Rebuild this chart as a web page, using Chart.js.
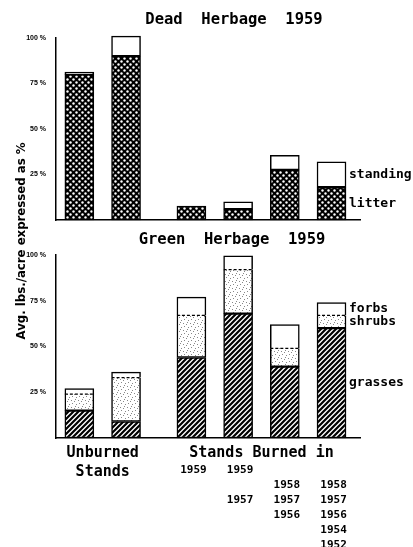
<!DOCTYPE html>
<html>
<head>
<meta charset="utf-8">
<title>Dead and Green Herbage 1959</title>
<script src="https://cdn.jsdelivr.net/npm/chart.js@4.4.0/dist/chart.umd.min.js"></script>
<style>
  body { margin: 0; background: #fff; }
  #wrap { position: relative; width: 413px; height: 547px; }
  canvas { position: absolute; left: 0; top: 0; }
</style>
</head>
<body>
<div id="wrap">
  <canvas id="deadChart" width="413" height="547"></canvas>
  <canvas id="greenChart" width="413" height="547"></canvas>
</div>
<script>
// stands, left to right: two unburned, four burned
const barGroups = [0, 0, 1, 1, 1, 1];
const groupLabels = [['Unburned', 'Stands'], ['Stands Burned in']];
const burnYears = [[], [], ['1959'], ['1959', '1957'], ['1958', '1957', '1956'], ['1958', '1957', '1956', '1954', '1952']];
const yearRows = ['1959', '1958', '1957', '1956', '1954', '1952'];

// dead herbage 1959 (avg lbs/acre expressed as %)
const litter = [80, 90, 7.7, 6, 27.5, 18];
const standing = [1.3, 11, 0, 4, 8, 14];

// green herbage 1959
const grasses = [15, 9, 44, 68, 39, 60];
const shrubs = [9, 24, 23, 24, 10, 7];
const forbs = [3, 3, 10, 7.5, 13, 7];

const yTicks = [25, 50, 75, 100];

const FONT = '"DejaVu Sans Mono", monospace';

function makePattern(size, draw) {
    const c = document.createElement('canvas');
    c.width = size;
    c.height = size;
    const g = c.getContext('2d');
    draw(g, size);
    return g.createPattern(c, 'repeat');
}

// black with white dots (litter)
const dotsPattern = makePattern(6, (g, s) => {
    g.fillStyle = '#000';
    g.fillRect(0, 0, s, s);
    g.fillStyle = '#fff';
    [[1.5, 1.5], [4.5, 4.5]].forEach(([x, y]) => {
        g.beginPath();
        g.arc(x, y, 1.2, 0, Math.PI * 2);
        g.fill();
    });
});

// diagonal hatching (grasses)
const hatchPattern = makePattern(5, (g, s) => {
    g.fillStyle = '#fff';
    g.fillRect(0, 0, s, s);
    g.strokeStyle = '#000';
    g.lineWidth = 2.2;
    g.beginPath();
    g.moveTo(-1, s + 1); g.lineTo(s + 1, -1);
    g.moveTo(-1, 1); g.lineTo(1, -1);
    g.moveTo(s - 1, s + 1); g.lineTo(s + 1, s - 1);
    g.stroke();
});

// light stipple (shrubs)
const stipplePattern = makePattern(7, (g, s) => {
    g.fillStyle = '#fff';
    g.fillRect(0, 0, s, s);
    g.fillStyle = '#888';
    [[1, 1], [4, 2], [2, 4], [6, 5], [5, 0]].forEach(([x, y]) => g.fillRect(x, y, 1, 1));
});

// bar position on the x axis: index plus a gap between the groups
function toPoints(values) {
    return values.map((v, i) => ({ x: i + 0.4 * barGroups[i], y: v }));
}

function dataset(label, values, fill, border) {
    return {
        label: label,
        data: toPoints(values),
        backgroundColor: fill,
        borderColor: '#000',
        borderWidth: border === undefined ? 1.5 : border,
        borderSkipped: false,
        barThickness: 29,
        clip: false
    };
}

function makeScales() {
    return {
        x: {
            type: 'linear', min: -0.5, max: 6.01, stacked: true, offset: false,
            grid: { display: false },
            ticks: { display: false },
            border: { display: true, color: '#000', width: 1.5 },
            afterFit: s => { s.height = 0; }
        },
        y: {
            min: 0, max: 100, stacked: true,
            grid: { display: false },
            border: { display: true, color: '#000', width: 1.5 },
            afterBuildTicks: s => { s.ticks = yTicks.map(v => ({ value: v })); },
            ticks: {
                color: '#000', padding: 2,
                font: { family: 'Liberation Sans', size: 7, weight: 'bold' },
                callback: v => v + ' %'
            },
            afterFit: s => { s.width = 56; }
        }
    };
}

// labels to the right of the last bar, at the middle of each segment
function sideLabels(chart) {
    const ctx = chart.ctx;
    ctx.font = 'bold 13px ' + FONT;
    ctx.textAlign = 'left';
    ctx.textBaseline = 'middle';
    chart.data.datasets.forEach((ds, d) => {
        const bars = chart.getDatasetMeta(d).data;
        const el = bars[bars.length - 1];
        ctx.fillText(ds.label, el.x + el.width / 2 + 3, (el.y + el.base) / 2);
    });
}

const deadText = {
    id: 'deadText',
    afterDraw(chart) {
        const ctx = chart.ctx;
        ctx.save();
        ctx.fillStyle = '#000';
        ctx.textAlign = 'center';
        ctx.textBaseline = 'middle';
        ctx.font = 'bold 15.5px ' + FONT;
        ctx.fillText('Dead  Herbage  1959', 234, 20);
        sideLabels(chart);
        ctx.restore();
    }
};

const greenText = {
    id: 'greenText',
    afterDraw(chart) {
        const ctx = chart.ctx;
        ctx.save();
        ctx.fillStyle = '#000';

        // dashed line between shrubs and forbs
        ctx.strokeStyle = '#000';
        ctx.lineWidth = 1.2;
        ctx.setLineDash([3, 2]);
        chart.getDatasetMeta(1).data.forEach(el => {
            ctx.beginPath();
            ctx.moveTo(el.x - el.width / 2, el.y);
            ctx.lineTo(el.x + el.width / 2, el.y);
            ctx.stroke();
        });
        ctx.setLineDash([]);

        ctx.textAlign = 'center';
        ctx.textBaseline = 'middle';
        ctx.font = 'bold 15.5px ' + FONT;
        ctx.fillText('Green  Herbage  1959', 232, 240);

        sideLabels(chart);

        // group labels under the axis
        const xs = chart.getDatasetMeta(0).data.map(el => el.x);
        ctx.textAlign = 'center';
        ctx.font = 'bold 15px ' + FONT;
        groupLabels.forEach((lines, g) => {
            const px = xs.filter((x, i) => barGroups[i] === g);
            const cx = (Math.min(...px) + Math.max(...px)) / 2;
            lines.forEach((t, k) => ctx.fillText(t, cx, 453 + k * 19));
        });

        // burn years under each bar
        ctx.font = 'bold 11px ' + FONT;
        burnYears.forEach((years, i) => {
            years.forEach(yr => {
                ctx.fillText(yr, xs[i] + 2, 470 + yearRows.indexOf(yr) * 15);
            });
        });

        // shared y axis title
        ctx.translate(22, 241);
        ctx.rotate(-Math.PI / 2);
        ctx.font = 'bold 13px "DejaVu Sans"';
        ctx.fillText('Avg. lbs./acre expressed as %', 0, 0, 197);
        ctx.restore();
    }
};

function baseOptions(padding) {
    return {
        responsive: false,
        animation: false,
        events: [],
        devicePixelRatio: 1,
        layout: { padding: padding },
        plugins: { legend: { display: false }, tooltip: { enabled: false }, title: { display: false } },
        scales: makeScales()
    };
}

new Chart(document.getElementById('deadChart'), {
    type: 'bar',
    data: {
        datasets: [
            dataset('litter', litter, dotsPattern),
            dataset('standing', standing, '#fff')
        ]
    },
    options: baseOptions({ top: 38, bottom: 327, left: 0, right: 53 }),
    plugins: [deadText]
});

new Chart(document.getElementById('greenChart'), {
    type: 'bar',
    data: {
        datasets: [
            dataset('grasses', grasses, hatchPattern),
            dataset('shrubs', shrubs, stipplePattern, { top: 0, left: 1.5, right: 1.5, bottom: 1.5 }),
            dataset('forbs', forbs, '#fff', { top: 1.5, left: 1.5, right: 1.5, bottom: 0 })
        ]
    },
    options: baseOptions({ top: 255, bottom: 109, left: 0, right: 53 }),
    plugins: [greenText]
});
</script>
</body>
</html>
